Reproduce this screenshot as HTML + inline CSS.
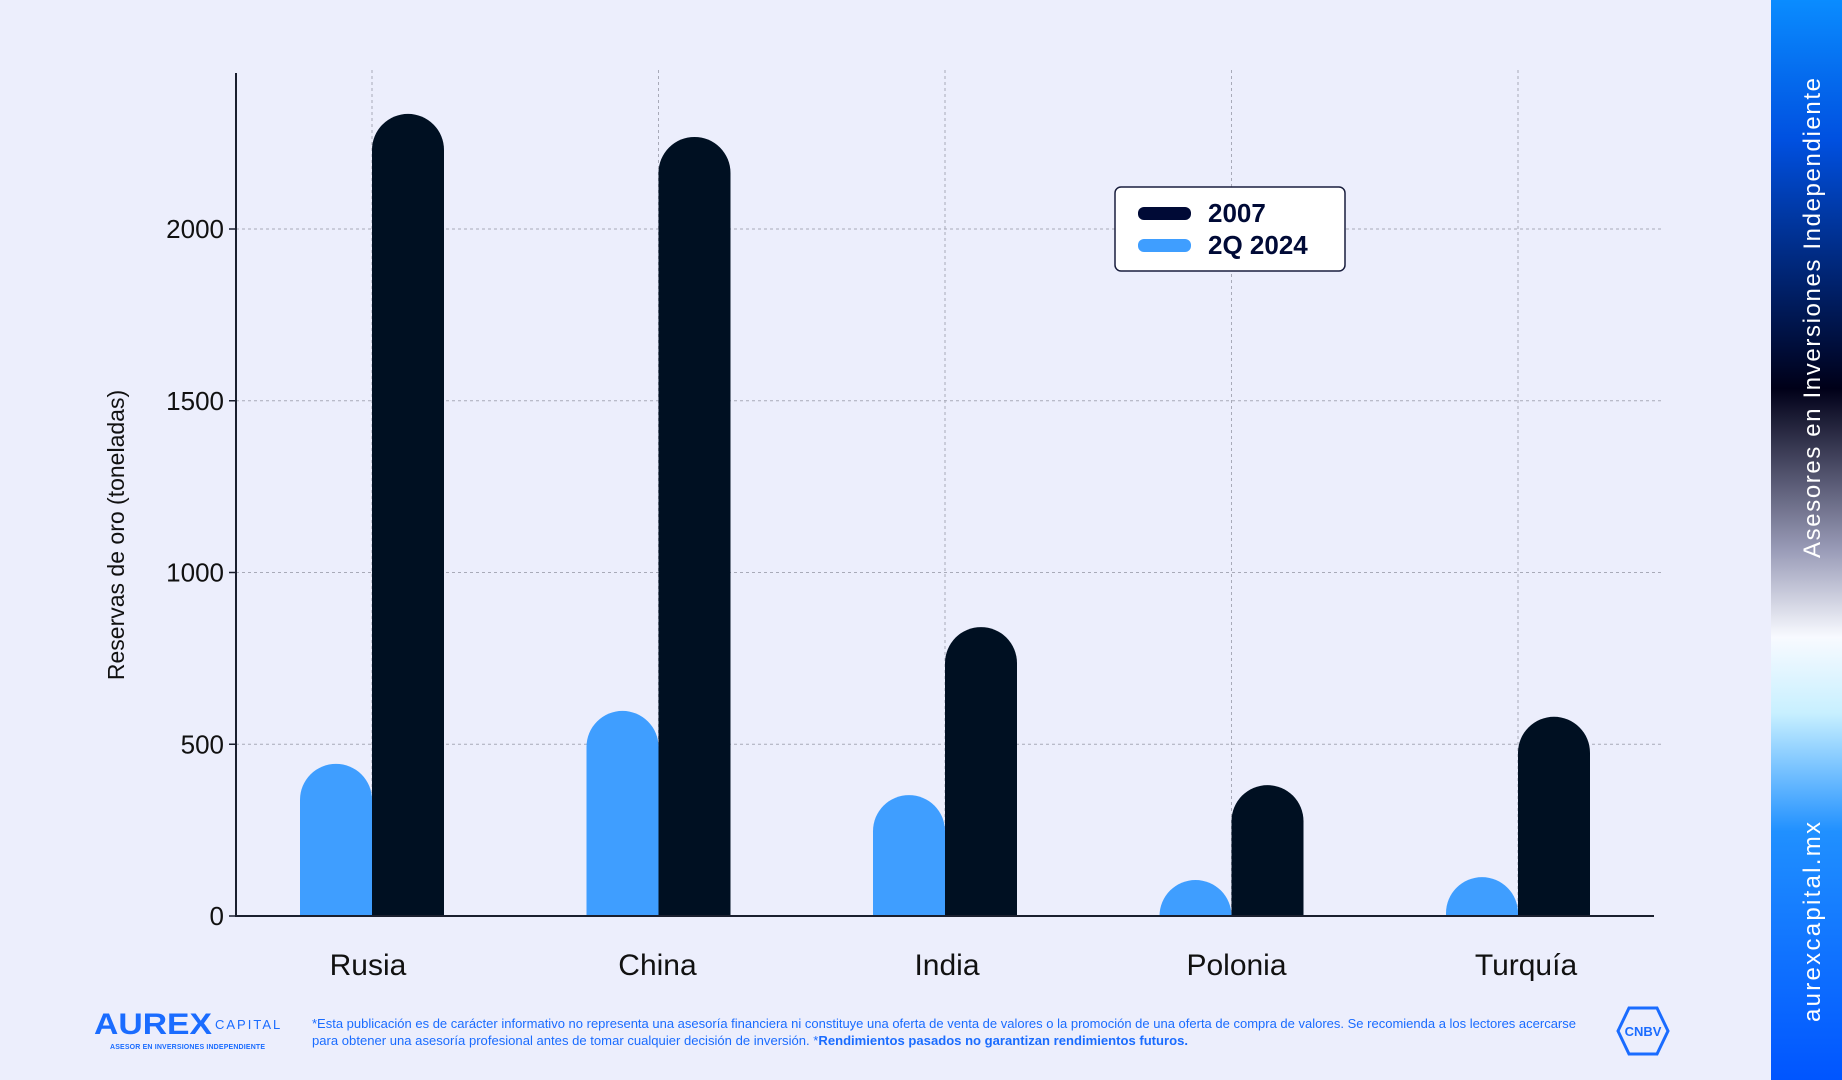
<!DOCTYPE html>
<html><head><meta charset="utf-8"><style>
html,body{margin:0;padding:0;background:#eceefc;}
svg{display:block;font-family:"Liberation Sans",sans-serif;}
</style></head><body>
<svg id="chart" width="1842" height="1080" viewBox="0 0 1842 1080">
<defs>
<linearGradient id="strip" x1="0" y1="0" x2="0" y2="1">
<stop offset="0" stop-color="#0a8cff"/>
<stop offset="0.13" stop-color="#0050e0"/>
<stop offset="0.36" stop-color="#000018"/>
<stop offset="0.51" stop-color="#9a9cb8"/>
<stop offset="0.59" stop-color="#f8faff"/>
<stop offset="0.66" stop-color="#c8f0ff"/>
<stop offset="0.77" stop-color="#2090ff"/>
<stop offset="1" stop-color="#0055ff"/>
</linearGradient>
</defs>
<rect x="0" y="0" width="1842" height="1080" fill="#eceefc"/>
<g id="grid"></g>
<g id="bars"></g>
<line x1="236" y1="73" x2="236" y2="917" stroke="#1a1f2e" stroke-width="2"/>
<line x1="235" y1="916" x2="1654" y2="916" stroke="#1a1f2e" stroke-width="2"/>
<g id="yticks"></g>
<g id="xlabels"></g>
<text transform="translate(124,535) rotate(-90)" text-anchor="middle" font-size="23" fill="#111">Reservas de oro (toneladas)</text>
<g>
<rect x="1115" y="187" width="230" height="84" rx="6" fill="#fff" stroke="#1a1f3e" stroke-width="1.5"/>
<rect x="1138" y="207" width="53" height="13" rx="6" fill="#000a36"/>
<text x="1208" y="222" font-size="26" font-weight="bold" fill="#000a36">2007</text>
<rect x="1138" y="239" width="53" height="13" rx="6" fill="#3f9eff"/>
<text x="1208" y="254" font-size="26" font-weight="bold" fill="#000a36">2Q 2024</text>
</g>
<rect x="1771" y="0" width="71" height="1080" fill="url(#strip)"/>
<text transform="translate(1820,318) rotate(-90)" text-anchor="middle" font-size="24" fill="#fff" textLength="480">Asesores en Inversiones Independiente</text>
<text transform="translate(1820,922) rotate(-90)" text-anchor="middle" font-size="24" fill="#fff" textLength="200">aurexcapital.mx</text>
<g>
<text x="94" y="1034" font-size="30" font-weight="bold" fill="#1a6cff" textLength="118" lengthAdjust="spacingAndGlyphs">AUREX</text>
<text x="215" y="1029" font-size="13" fill="#1a6cff" letter-spacing="2">CAPITAL</text>
<text x="110" y="1049" font-size="7" font-weight="bold" fill="#1a6cff" textLength="155">ASESOR EN INVERSIONES INDEPENDIENTE</text>
</g>
<text x="312" y="1028" font-size="13" fill="#1a6cff" textLength="1264" lengthAdjust="spacingAndGlyphs">*Esta publicación es de carácter informativo no representa una asesoría financiera ni constituye una oferta de venta de valores o la promoción de una oferta de compra de valores. Se recomienda a los lectores acercarse</text>
<text x="312" y="1045" font-size="13" fill="#1a6cff" textLength="876" lengthAdjust="spacingAndGlyphs">para obtener una asesoría profesional antes de tomar cualquier decisión  de inversión. *<tspan font-weight="bold">Rendimientos pasados no garantizan rendimientos futuros.</tspan></text>
<g>
<polygon points="1629,1008 1657,1008 1668,1031 1657,1054 1629,1054 1618,1031" fill="none" stroke="#1a6cff" stroke-width="3"/>
<text x="1643" y="1036" text-anchor="middle" font-size="13" font-weight="bold" fill="#1a6cff">CNBV</text>
</g>
</svg>
<script>
const categories = ["Rusia","China","India","Polonia","Turquía"];
const values2024 = [443, 597, 352, 99, 113];
const values2007 = [2335, 2268, 841, 381, 580];
const yTicks = [0, 500, 1000, 1500, 2000];

const NS = "http://www.w3.org/2000/svg";
const y0 = 916, pxPerUnit = (916 - 229) / 2000;
function yScale(v){ return y0 - v * pxPerUnit; }
function xCenter(i){ return 372 + i * 286.5; }
function labelX(i){ return 368 + i * 289.5; }
const barW = 72;

const grid = document.getElementById('grid');
const bars = document.getElementById('bars');
const yt = document.getElementById('yticks');
const xl = document.getElementById('xlabels');

yTicks.forEach(function(t){
  const y = yScale(t);
  if (t > 0) {
    const l = document.createElementNS(NS,'line');
    l.setAttribute('x1',236); l.setAttribute('x2',1663);
    l.setAttribute('y1',y); l.setAttribute('y2',y);
    l.setAttribute('stroke','#a8aab8'); l.setAttribute('stroke-dasharray','3,3'); l.setAttribute('stroke-width','1');
    
    
    grid.appendChild(l);
  }
  const tk = document.createElementNS(NS,'line');
  tk.setAttribute('x1',229); tk.setAttribute('x2',236);
  tk.setAttribute('y1',y); tk.setAttribute('y2',y);
  tk.setAttribute('stroke','#1a1f2e'); tk.setAttribute('stroke-width','1.5');
  
  
  yt.appendChild(tk);
  const tx = document.createElementNS(NS,'text');
  tx.setAttribute('x',224); tx.setAttribute('y',y+9);
  tx.setAttribute('text-anchor','end'); tx.setAttribute('font-size','26'); tx.setAttribute('fill','#111');
  tx.textContent = t;
  
  
  yt.appendChild(tx);
});

function barPath(x, w, v){
  const top = yScale(v), r = w/2;
  const capTop = Math.min(top + r, y0);
  return 'M'+x+','+y0+' L'+x+','+capTop+' A'+r+','+r+' 0 0 1 '+(x+w)+','+capTop+' L'+(x+w)+','+y0+' Z';
}

categories.forEach(function(c,i){
  const xc = xCenter(i);
  const vl = document.createElementNS(NS,'line');
  vl.setAttribute('x1',xc); vl.setAttribute('x2',xc);
  vl.setAttribute('y1',70); vl.setAttribute('y2',916);
  vl.setAttribute('stroke','#a8aab8'); vl.setAttribute('stroke-dasharray','3,3'); vl.setAttribute('stroke-width','1');
  
  
  grid.appendChild(vl);

  const b1 = document.createElementNS(NS,'path');
  b1.setAttribute('d', barPath(xc - barW, barW, values2024[i]));
  b1.setAttribute('fill','#3f9eff');
  
  
  bars.appendChild(b1);

  const b2 = document.createElementNS(NS,'path');
  b2.setAttribute('d', barPath(xc, barW, values2007[i]));
  b2.setAttribute('fill','#001022');
  
  
  bars.appendChild(b2);

  const lb = document.createElementNS(NS,'text');
  lb.setAttribute('x', labelX(i)); lb.setAttribute('y', 975);
  lb.setAttribute('text-anchor','middle'); lb.setAttribute('font-size','30'); lb.setAttribute('fill','#111');
  lb.textContent = c;
  
  
  xl.appendChild(lb);
});
</script>
</body></html>
